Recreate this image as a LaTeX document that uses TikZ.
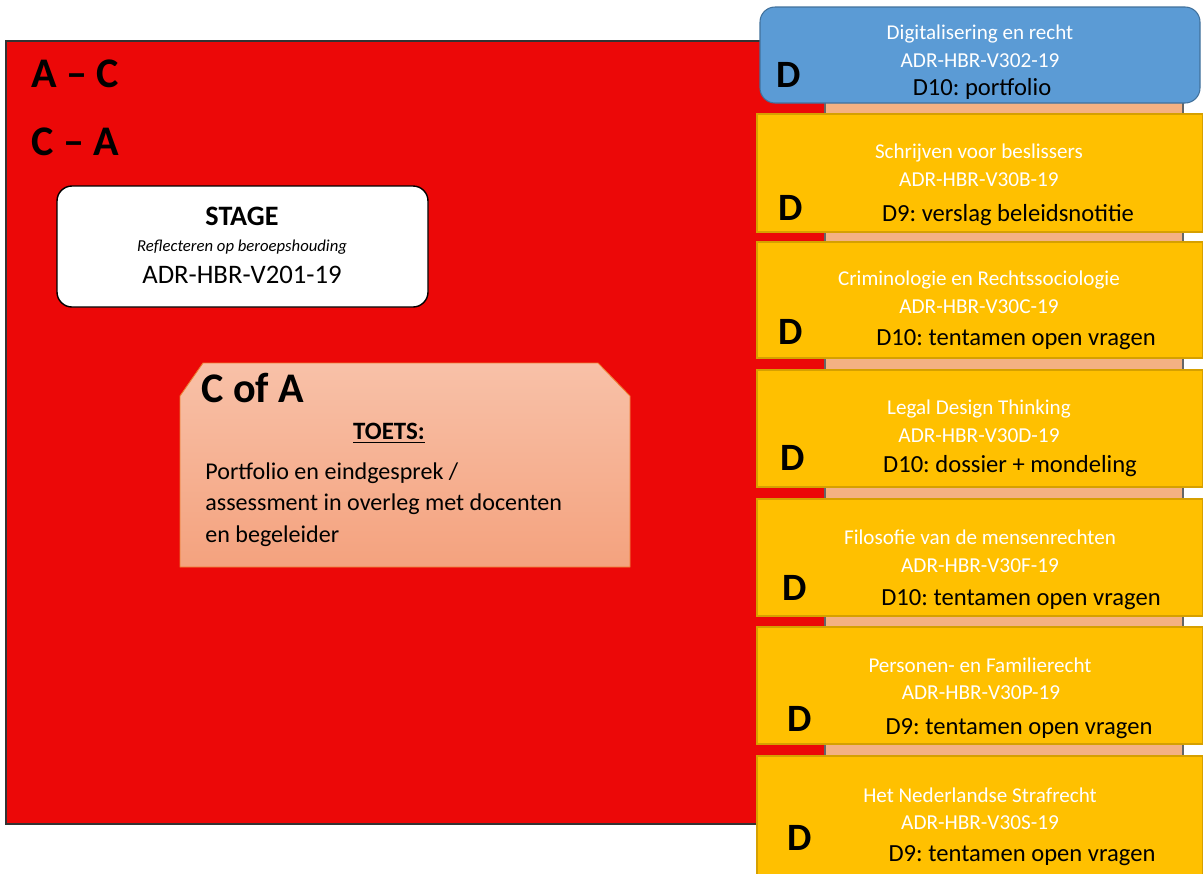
\documentclass[tikz,border=0pt]{standalone}
\usepackage{fontspec}
\setmainfont{Carlito}
\usetikzlibrary{positioning}
\frenchspacing

\definecolor{rood}{RGB}{236,8,8}
\definecolor{geel}{RGB}{255,192,0}
\definecolor{geelrand}{RGB}{214,160,0}
\definecolor{blauw}{RGB}{91,155,213}
\definecolor{blauwrand}{RGB}{65,113,156}
\definecolor{zalm}{RGB}{244,177,131}
\definecolor{zalmtop}{RGB}{248,193,168}
\definecolor{zalmbodem}{RGB}{244,162,126}
\definecolor{oranjerand}{RGB}{237,125,49}

\tikzset{
	vakgeel/.style={draw=geelrand, fill=geel, line width=0.6pt},
	vaktitel/.style={text=white, font=\fontsize{12}{14}\selectfont, inner sep=0pt},
	vakcode/.style={text=white, font=\fontsize{12.1}{14}\selectfont, inner sep=0pt},
	vaktoets/.style={font=\fontsize{14}{17}\selectfont, inner sep=0pt},
	grootD/.style={font=\fontsize{22}{26}\bfseries\selectfont, inner sep=0pt},
	kop/.style={font=\fontsize{24}{28}\bfseries\selectfont, inner sep=0pt, anchor=west}
}

\begin{document}
\begin{tikzpicture}[x=0.02cm, y=-0.02cm]
	\useasboundingbox (0,0) rectangle (1203,873);
	% Rood vlak
	\filldraw[draw=black!80, fill=rood, line width=0.6pt] (6,41) rectangle (825,824);
	\node[kop] (ac) at (31,74) {A \textendash{} C};
	\node[kop] (ca) at (31,142) {C \textendash{} A};
	% Zalm achter de vakken
	\filldraw[draw=black!60, fill=zalm, line width=0.6pt] (825,95) rectangle (1183,800);

	% Stage
	\filldraw[draw=black, fill=white, line width=0.8pt, rounded corners=0.3cm] (57,186)
	rectangle (428,307);
	\node[inner sep=0pt, font=\fontsize{16}{19}\bfseries\selectfont] (stage) at (242,216)
	{STAGE};
	\node[inner sep=0pt, font=\fontsize{9.5}{12}\itshape\selectfont] (reflect) at (242,247)
	{Reflecteren op beroepshouding};
	\node[inner sep=0pt, font=\fontsize{15.2}{18}\selectfont] (stagecode) at (242,275)
	{ADR-HBR-V201-19};

	% C of A
	\shade[top color=zalmtop, bottom color=zalmbodem] (180,396) -- (203,363) -- (598,363)
	-- (630,396) -- (630,567) -- (180,567) -- cycle;
	\draw[draw=oranjerand, line width=0.5pt] (180,396) -- (203,363) -- (598,363)
	-- (630,396) -- (630,567) -- (180,567) -- cycle;
	\node[kop] (cofa) at (201,388) {C of A};
	\node[inner sep=0pt, font=\fontsize{14.2}{17}\bfseries\selectfont] (toets) at (389,433)
	{\underline{TOETS:}};
	\node[inner sep=0pt, anchor=north west, align=left, font=\fontsize{13.7}{18.1}\selectfont]
	(toetstekst) at (205,462)
	{Portfolio en eindgesprek /\\assessment in overleg met docenten\\en begeleider};

	% Digitalisering en recht
	\filldraw[draw=blauwrand, fill=blauw, line width=0.6pt, rounded corners=0.3cm] (760,7)
	rectangle (1200,103);
	\node[vaktitel] (digi) at (980,34) {Digitalisering en recht};
	\node[vakcode] (digicode) at (980,61) {ADR-HBR-V302-19};
	\node[vaktoets] (digitoets) at (982,89) {D10: portfolio};
	\node[grootD] (digiD) at (789,75) {D};

	% Schrijven voor beslissers
	\filldraw[vakgeel] (757,114) rectangle (1203,232);
	\node[vaktitel] (schrijven) at (979,153) {Schrijven voor beslissers};
	\node[vakcode] (schrijvencode) at (979,180) {ADR-HBR-V30B-19};
	\node[vaktoets] (schrijventoets) at (1008,215) {D9: verslag beleidsnotitie};
	\node[grootD] (schrijvenD) at (791,208) {D};

	% Criminologie en Rechtssociologie
	\filldraw[vakgeel] (757,242) rectangle (1203,358);
	\node[vaktitel] (crimi) at (979,280) {Criminologie en Rechtssociologie};
	\node[vakcode] (crimicode) at (979,307) {ADR-HBR-V30C-19};
	\node[vaktoets] (crimitoets) at (1016,340) {D10: tentamen open vragen};
	\node[grootD] (crimiD) at (791,332) {D};

	% Legal Design Thinking
	\filldraw[vakgeel] (757,370) rectangle (1203,487);
	\node[vaktitel] (legal) at (979,409) {Legal Design Thinking};
	\node[vakcode] (legalcode) at (979,436) {ADR-HBR-V30D-19};
	\node[vaktoets] (legaltoets) at (1010,466) {D10: dossier + mondeling};
	\node[grootD] (legalD) at (793,458) {D};

	% Filosofie van de mensenrechten
	\filldraw[vakgeel] (757,499) rectangle (1203,616);
	\node[vaktitel] (filo) at (980,537) {Filosofie van de mensenrechten};
	\node[vakcode] (filocode) at (980,566) {ADR-HBR-V30F-19};
	\node[vaktoets] (filotoets) at (1021,600) {D10: tentamen open vragen};
	\node[grootD] (filoD) at (795,588) {D};

	% Personen- en Familierecht
	\filldraw[vakgeel] (757,627) rectangle (1203,744);
	\node[vaktitel] (pers) at (980,665) {Personen- en Familierecht};
	\node[vakcode] (perscode) at (981,693) {ADR-HBR-V30P-19};
	\node[vaktoets] (perstoets) at (1019,729) {D9: tentamen open vragen};
	\node[grootD] (persD) at (800,719) {D};

	% Het Nederlandse Strafrecht
	\filldraw[vakgeel] (757,756) rectangle (1203,880);
	\node[vaktitel] (straf) at (980,795) {Het Nederlandse Strafrecht};
	\node[vakcode] (strafcode) at (980,823) {ADR-HBR-V30S-19};
	\node[vaktoets] (straftoets) at (1022,856) {D9: tentamen open vragen};
	\node[grootD] (strafD) at (800,838) {D};
\end{tikzpicture}
\end{document}
